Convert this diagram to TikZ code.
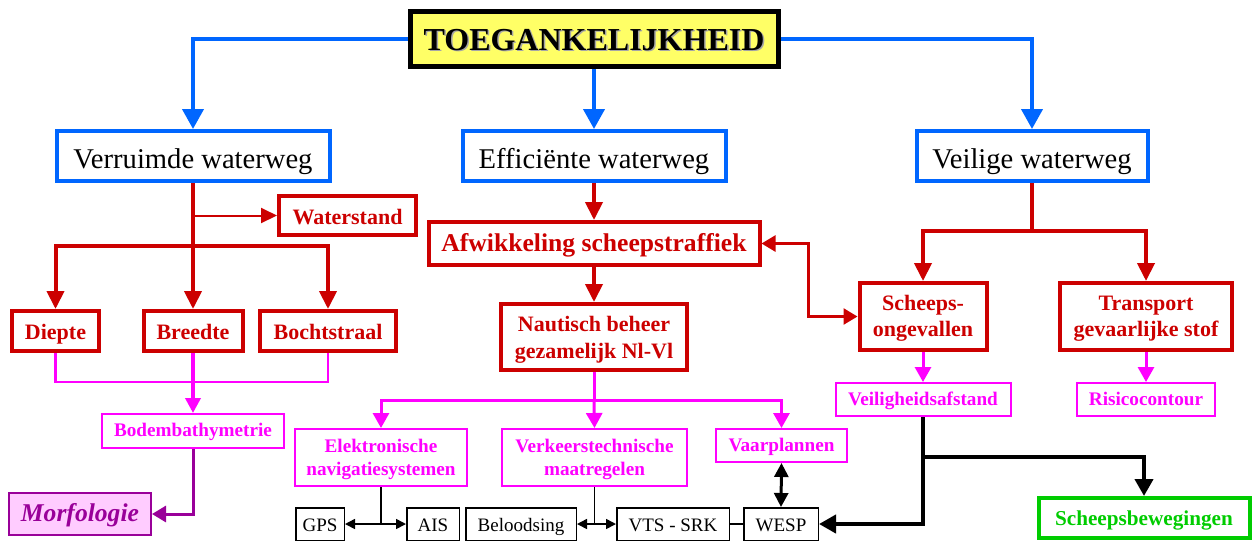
\documentclass[tikz,border=0pt]{standalone}
\usepackage{fontspec}
\setmainfont{Liberation Serif}
\usetikzlibrary{arrows.meta,calc}
\definecolor{cblue}{HTML}{0066FF}
\definecolor{cred}{HTML}{CC0000}
\definecolor{cmag}{HTML}{FF00FF}
\definecolor{cpur}{HTML}{990099}
\definecolor{cgreen}{HTML}{00CC00}
\definecolor{cyel}{HTML}{FFFF66}
\definecolor{cpink}{HTML}{FFCCFF}
\begin{document}
\begin{tikzpicture}[x=0.5pt,y=-0.5pt,
  box/.style={draw, inner sep=0pt, align=center},
  tz/.style n args={2}{text height=#1, text depth=#2},
  bluebox/.style={box, tz={13pt}{1pt}, draw=cblue, line width=2pt, font=\fontsize{14.3}{17}\selectfont},
  redbox/.style={box, draw=cred, line width=2pt, text=cred, font=\bfseries\fontsize{11}{13.3}\selectfont},
  magbox/.style={box, draw=cmag, line width=1pt, text=cmag, font=\bfseries\fontsize{9.6}{11.2}\selectfont},
  blkbox/.style={box, tz={8.2pt}{0.5pt}, draw=black, line width=0.75pt, font=\fontsize{9.5}{11}\selectfont},
  bline/.style={draw=cblue, line width=2pt, -{Triangle[length=10pt,width=10.5pt]}},
  rline/.style={draw=cred, line width=2pt, -{Triangle[length=9pt,width=8.5pt]}},
  rplain/.style={draw=cred, line width=2pt},
  rthin/.style={draw=cred, line width=1pt, -{Triangle[length=8pt,width=7.5pt]}},
  rdbl/.style={draw=cred, line width=1.3pt, {Triangle[length=7pt,width=8pt]}-{Triangle[length=7pt,width=8pt]}},
  mthin/.style={draw=cmag, line width=1.2pt},
  mline/.style={draw=cmag, line width=1.8pt, -{Triangle[length=7.5pt,width=7.5pt]}},
  mplain/.style={draw=cmag, line width=1.5pt},
  marrow/.style={draw=cmag, line width=1.5pt, -{Triangle[length=7.5pt,width=8pt]}},
  pline/.style={draw=cpur, line width=1.5pt, -{Triangle[length=7pt,width=8pt]}},
  kthin/.style={draw=black, line width=0.8pt},
  kdbl/.style={draw=black, line width=0.8pt, {Triangle[length=5pt,width=5pt]}-{Triangle[length=5pt,width=5pt]}},
  kmid/.style={draw=black, line width=1.5pt, {Triangle[length=7pt,width=7pt]}-{Triangle[length=7pt,width=7pt]}},
  kthick/.style={draw=black, line width=2pt, -{Triangle[length=8.5pt,width=9pt]}}
]
\useasboundingbox (0,0) rectangle (1252,543);

% top
\node[box, draw=black, fill=cyel, line width=2.5pt, minimum width=184pt, minimum height=27.5pt] (top) at (594,39) {};
\node[tz={12pt}{1pt}, text=black!35, font=\bfseries\fontsize{16}{19}\selectfont] at (595.5,40.5) {TOEGANKELIJKHEID};
\node[tz={12pt}{1pt}, font=\bfseries\fontsize{16}{19}\selectfont] at (top) {TOEGANKELIJKHEID};

% blue level
\node[bluebox, minimum width=136.5pt, minimum height=25pt] (verr) at (193,156) {Verruimde waterweg};
\node[bluebox, minimum width=131.5pt, minimum height=25pt] (eff) at (594,156) {Efficiënte waterweg};
\node[bluebox, minimum width=115.5pt, minimum height=25pt] (veil) at (1032,156) {Veilige waterweg};

% red level
\node[redbox, tz={9.5pt}{1pt}, minimum width=68.5pt, minimum height=19.5pt] (wat) at (347.5,215.5) {Waterstand};
\node[redbox, tz={9.5pt}{1pt}, minimum width=43.5pt, minimum height=20pt] (diepte) at (55.5,331) {Diepte};
\node[redbox, tz={9.5pt}{1pt}, minimum width=49.5pt, minimum height=20pt] (breedte) at (193,331) {Breedte};
\node[redbox, tz={9.5pt}{1pt}, minimum width=68pt, minimum height=20pt] (bocht) at (328,331) {Bochtstraal};
\node[redbox, tz={9.2pt}{1pt}, minimum width=165.5pt, minimum height=21.5pt, font=\bfseries\fontsize{12.8}{15}\selectfont] (afw) at (594,243.5) {Afwikkeling scheepstraffiek};
\node[redbox, tz={22.3pt}{1pt}, minimum width=93pt, minimum height=33pt] (naut) at (594,337) {Nautisch beheer\\gezamelijk Nl-Vl};
\node[redbox, tz={21.2pt}{1pt}, minimum width=63.5pt, minimum height=33.5pt] (scheeps) at (923,316.5) {Scheeps-\\ongevallen};
\node[redbox, tz={21.2pt}{1pt}, minimum width=86pt, minimum height=33.5pt] (trans) at (1146,316.5) {Transport\\gevaarlijke stof};

% magenta level
\node[magbox, tz={7pt}{1.3pt}, minimum width=91pt, minimum height=17pt] (bodem) at (193,431) {Bodembathymetrie};
\node[magbox, tz={18.5pt}{1pt}, minimum width=86pt, minimum height=28.5pt] (elek) at (381,457.5) {Elektronische\\navigatiesystemen};
\node[magbox, tz={18.5pt}{1pt}, minimum width=92.5pt, minimum height=28.5pt] (verk) at (594.5,457.5) {Verkeerstechnische\\maatregelen};
\node[magbox, tz={7pt}{1.3pt}, minimum width=65.5pt, minimum height=16.5pt] (vaar) at (781.5,445.5) {Vaarplannen};
\node[magbox, tz={7pt}{1.3pt}, minimum width=87.5pt, minimum height=16.5pt] (veilig) at (923,399.5) {Veiligheidsafstand};
\node[magbox, tz={7pt}{1.3pt}, minimum width=69pt, minimum height=16.5pt] (risico) at (1146,399.5) {Risicocontour};

% black boxes
\node[blkbox, minimum width=24.25pt, minimum height=16.25pt] (gps) at (320,524) {GPS};
\node[blkbox, minimum width=26.25pt, minimum height=16.25pt] (ais) at (433,524) {AIS};
\node[blkbox, minimum width=55.25pt, minimum height=16.25pt] (belood) at (521,524) {Beloodsing};
\node[blkbox, minimum width=56.25pt, minimum height=16.25pt] (vts) at (673,524) {VTS - SRK};
\node[blkbox, minimum width=37.25pt, minimum height=16.25pt] (wesp) at (781,524) {WESP};

% green and morfologie
\node[box, tz={8pt}{1pt}, draw=cgreen, line width=2pt, text=cgreen, font=\bfseries\fontsize{10.6}{13}\selectfont, minimum width=105.5pt, minimum height=20pt] (sbw) at (1144,518) {Scheepsbewegingen};
\node[box, tz={8.7pt}{1pt}, draw=cpur, fill=cpink, line width=1pt, text=cpur, font=\bfseries\itshape\fontsize{12.8}{15}\selectfont, minimum width=71pt, minimum height=21pt] (morf) at (80,514) {Morfologie};

% blue connectors
\draw[bline] (top.west) -| (verr.north);
\draw[bline] (top.south) -- (eff.north);
\draw[bline] (top.east) -| (veil.north);

% red connectors
\coordinate (rj) at (193,246);
\draw[rline] (verr.south) -- (breedte.north);
\draw[rline] (rj) -| (diepte.north);
\draw[rline] (rj) -| (bocht.north);
\draw[rthin] (verr.south |- wat.west) -- (wat.west);
\draw[rline] (eff.south) -- (afw.north);
\draw[rline] (afw.south) -- (naut.north);
\draw[rdbl] (afw.east) -- ++(47,0) |- (scheeps.west);
\coordinate (vj) at (1032,231);
\draw[rplain] (veil.south) -- (vj);
\draw[rline] (vj) -| (scheeps.north);
\draw[rline] (vj) -| (trans.north);

% magenta connectors
\coordinate (mj) at (193,382);
\draw[mthin] (diepte.south) |- (mj) -| (bocht.south);
\draw[mline] (breedte.south) -- (bodem.north);
\coordinate (nj) at (594,400);
\draw[mplain] (naut.south) -- (nj);
\draw[marrow] (nj) -| (elek.north);
\draw[marrow] (nj) -- (verk.north);
\draw[marrow] (nj) -| (vaar.north);
\draw[marrow] (scheeps.south) -- (veilig.north);
\draw[marrow] (trans.south) -- (risico.north);
\draw[pline] (bodem.south) |- (morf.east);

% black connectors
\draw[kthin] (elek.south) -- (elek.south |- gps.east);
\draw[kdbl] (gps.east) -- (ais.west);
\draw[kthin] (verk.south) -- (verk.south |- belood.east);
\draw[kdbl] (belood.east) -- (vts.west);
\draw[kthin] (vts.east) -- (wesp.west);
\draw[kmid] (vaar.south) -- (wesp.north);
\coordinate (bj) at (923,457);
\draw[kthick] (veilig.south) |- (wesp.east);
\draw[kthick] (bj) -| (sbw.north);
\end{tikzpicture}
\end{document}
